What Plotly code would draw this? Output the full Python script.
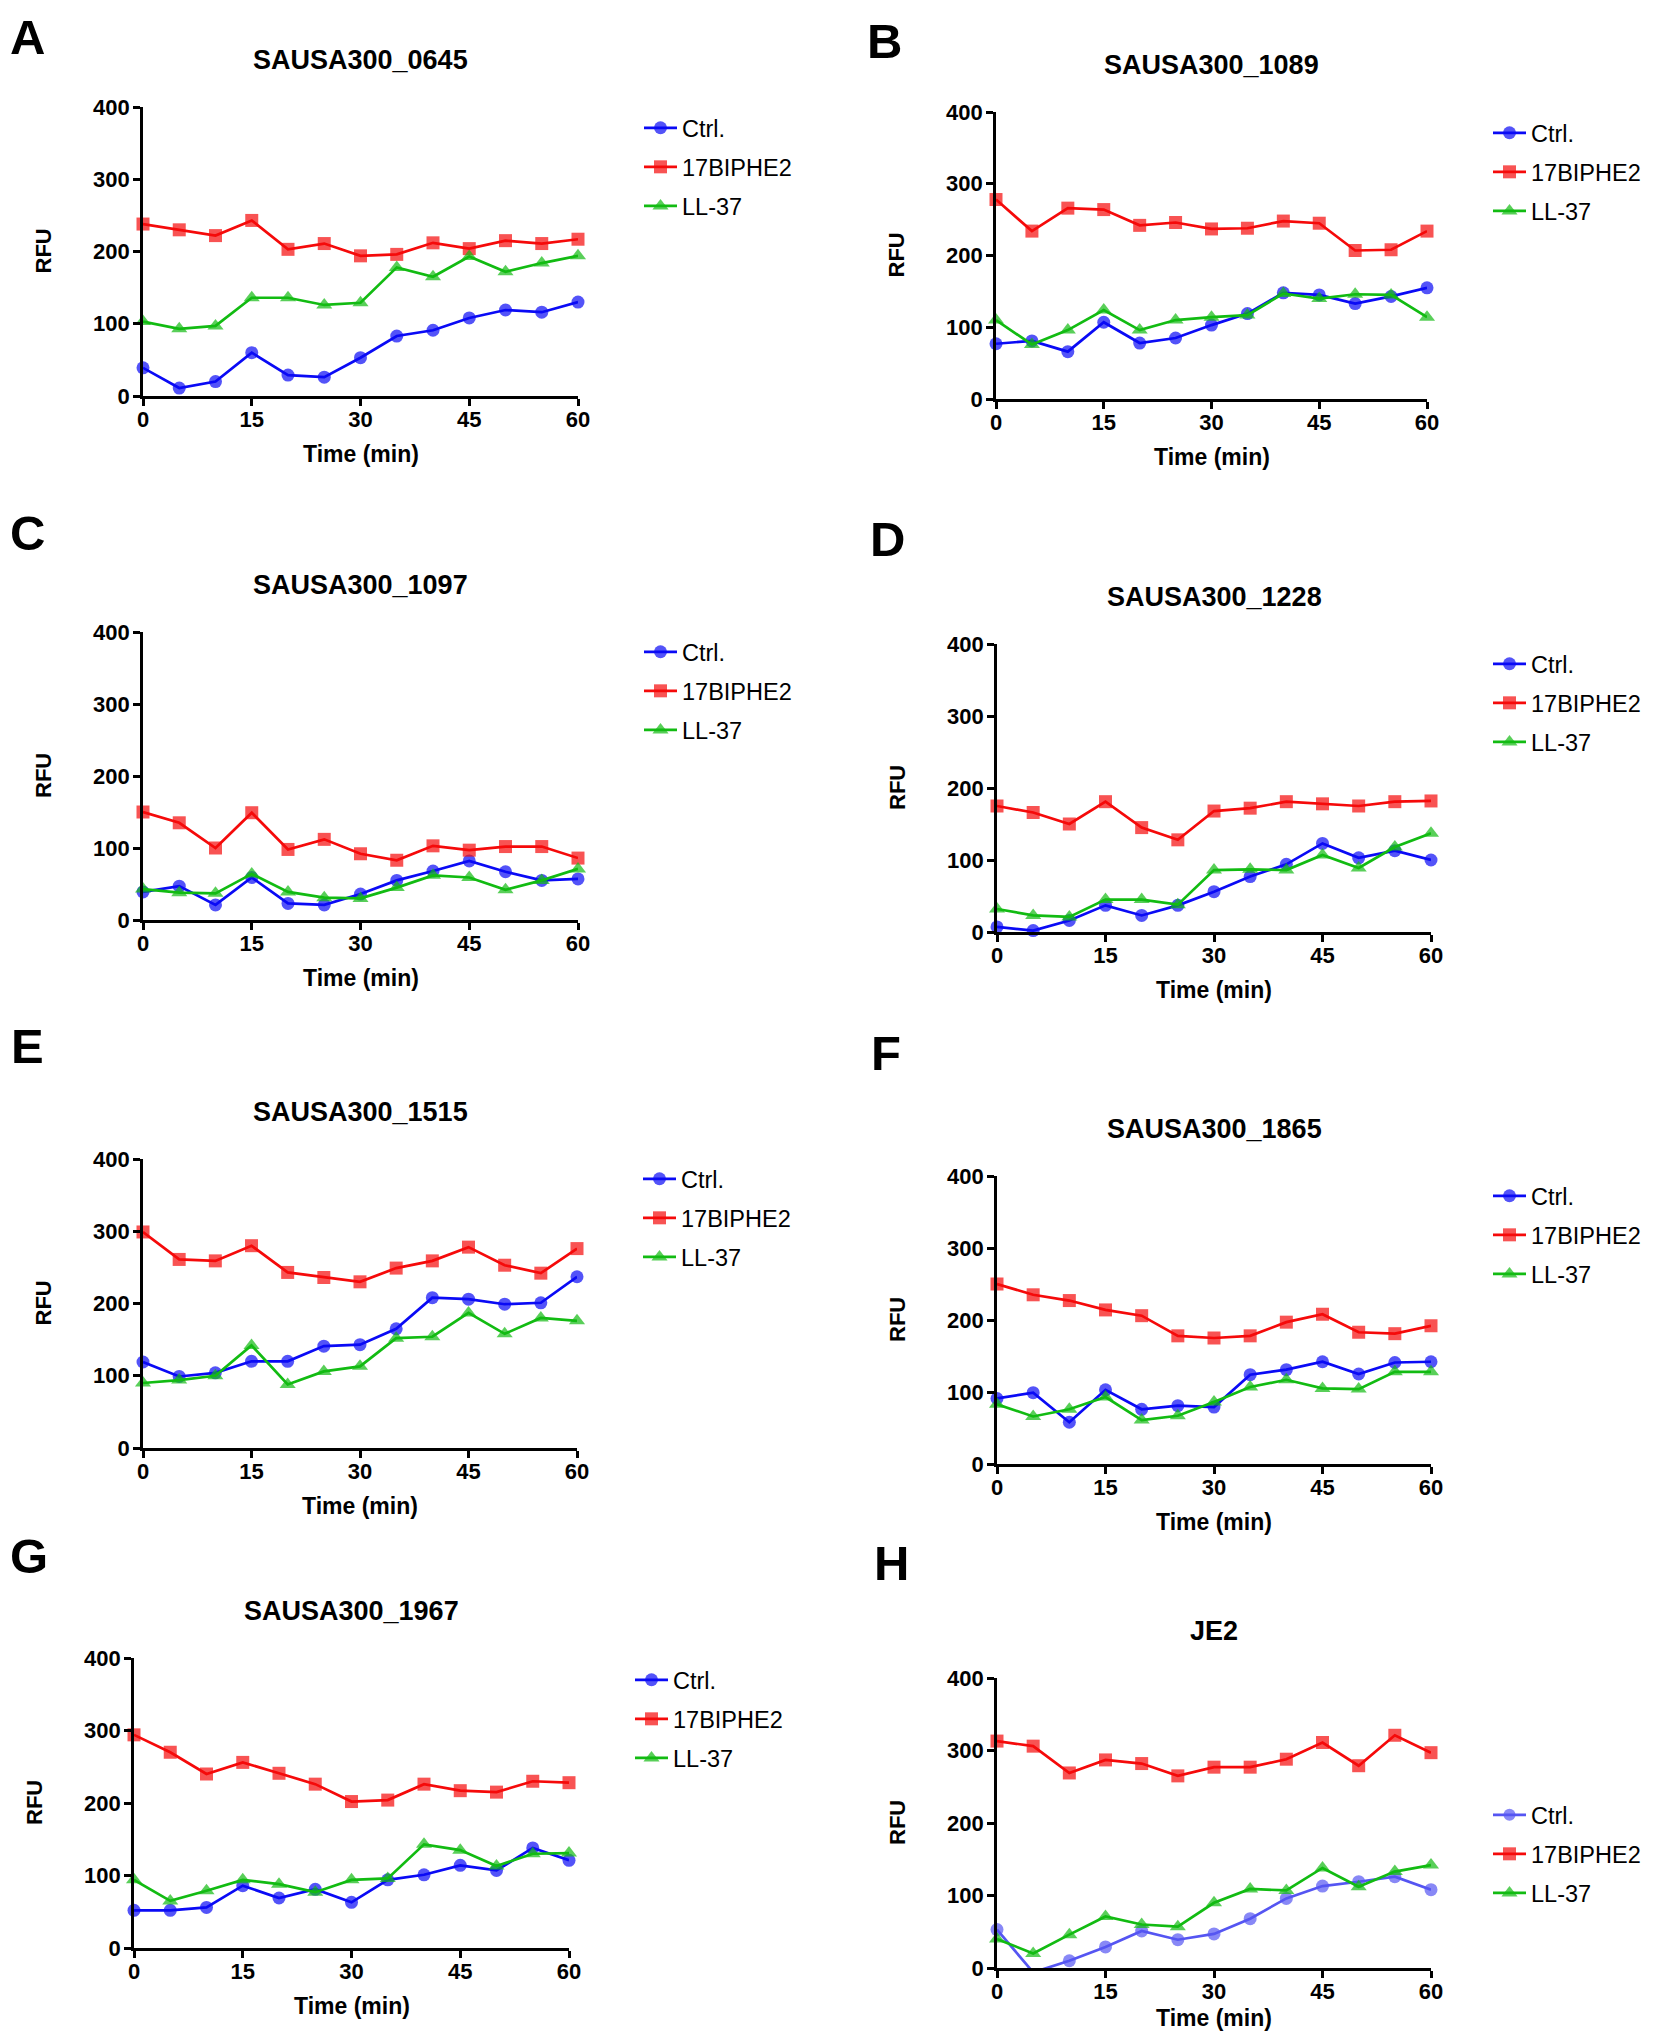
import plotly.graph_objects as go

# ---------------- data ----------------
TIME = [0, 5, 10, 15, 20, 25, 30, 35, 40, 45, 50, 55, 60]
SERIES = ["Ctrl.", "17BIPHE2", "LL-37"]
X_TICKS = [0, 15, 30, 45, 60]
Y_TICKS = [0, 100, 200, 300, 400]
LETTERS = ["A", "B", "C", "D", "E", "F", "G", "H"]
TITLES = ["SAUSA300_0645", "SAUSA300_1089", "SAUSA300_1097", "SAUSA300_1228",
          "SAUSA300_1515", "SAUSA300_1865", "SAUSA300_1967", "JE2"]

A_CTRL = [39, 11, 20, 60, 29, 26, 53, 83, 91, 108, 119, 116, 130]
A_17BIPHE2 = [238, 230, 222, 243, 203, 211, 194, 196, 212, 204, 215, 211, 217]
A_LL37 = [103, 93, 97, 136, 136, 126, 129, 178, 165, 193, 172, 184, 194]

B_CTRL = [77, 81, 66, 107, 78, 85, 103, 119, 148, 145, 133, 143, 155]
B_17BIPHE2 = [278, 234, 266, 264, 242, 246, 237, 238, 248, 245, 207, 208, 234]
B_LL37 = [110, 76, 96, 124, 96, 110, 114, 117, 147, 140, 146, 145, 114]

C_CTRL = [39, 47, 21, 59, 23, 21, 36, 55, 68, 82, 67, 55, 57]
C_17BIPHE2 = [150, 135, 100, 149, 98, 112, 92, 83, 103, 97, 102, 102, 86]
C_LL37 = [43, 38, 37, 64, 39, 31, 30, 45, 62, 59, 42, 55, 71]

D_CTRL = [7, 2, 16, 37, 23, 37, 56, 77, 94, 123, 103, 113, 100]
D_17BIPHE2 = [175, 166, 150, 181, 145, 128, 168, 172, 181, 178, 175, 181, 182]
D_LL37 = [32, 23, 21, 45, 45, 38, 86, 87, 86, 107, 89, 118, 137]

E_CTRL = [119, 99, 104, 120, 120, 141, 143, 165, 208, 206, 199, 201, 237]
E_17BIPHE2 = [299, 261, 259, 280, 243, 236, 230, 249, 259, 278, 253, 242, 276]
E_LL37 = [90, 94, 100, 142, 88, 106, 113, 152, 154, 187, 158, 180, 176]

F_CTRL = [91, 99, 58, 103, 76, 81, 79, 124, 131, 142, 125, 141, 142]
F_17BIPHE2 = [250, 235, 227, 214, 206, 178, 175, 178, 197, 208, 183, 181, 192]
F_LL37 = [83, 66, 76, 93, 61, 67, 86, 107, 117, 105, 104, 128, 128]

G_CTRL = [52, 52, 56, 86, 69, 81, 63, 94, 101, 114, 107, 138, 121]
G_17BIPHE2 = [294, 270, 240, 256, 241, 226, 202, 204, 226, 217, 215, 230, 228]
G_LL37 = [94, 65, 79, 94, 88, 77, 94, 96, 143, 135, 113, 130, 131]

H_CTRL = [53, -6, 10, 29, 51, 39, 47, 68, 96, 113, 119, 126, 108]
H_17BIPHE2 = [313, 306, 269, 287, 282, 265, 277, 277, 288, 311, 279, 321, 297]
H_LL37 = [40, 20, 46, 71, 60, 57, 90, 109, 107, 138, 112, 133, 142]

PANEL_DATA = [
    (A_CTRL, A_17BIPHE2, A_LL37),
    (B_CTRL, B_17BIPHE2, B_LL37),
    (C_CTRL, C_17BIPHE2, C_LL37),
    (D_CTRL, D_17BIPHE2, D_LL37),
    (E_CTRL, E_17BIPHE2, E_LL37),
    (F_CTRL, F_17BIPHE2, F_LL37),
    (G_CTRL, G_17BIPHE2, G_LL37),
    (H_CTRL, H_17BIPHE2, H_LL37),
]

# ---------------- layout / style ----------------
PAGE_W, PAGE_H = 1653, 2040
BODY_MARGIN = 8                      # default html body margin
W, H = PAGE_W - 2 * BODY_MARGIN, PAGE_H - 2 * BODY_MARGIN
FONT = "Liberation Sans, Arial, sans-serif"


def px(xpage):
    return (xpage - BODY_MARGIN) / W


def py(ypage):
    return 1 - (ypage - BODY_MARGIN) / H


# axis boxes in page pixels: (x at 0, x at 60, y at 400, y at 0)
BOXES = [
    (143, 578, 107, 396),
    (996, 1427, 112, 399),
    (143, 578, 632, 920),
    (997, 1431, 644, 932),
    (143, 577, 1159, 1448),
    (997, 1431, 1176, 1464),
    (134, 569, 1658, 1948),
    (997, 1431, 1678, 1968),
]
LETTER_POS = [(27, 37), (884, 41), (27, 533), (888, 539),
              (27, 1046), (886, 1053), (29, 1556), (891, 1563)]
LEGEND_ROW1 = [19, 19, 18, 18, 18, 18, 20, 135]
LEGEND_FONT = 23.5
LEGEND_MAX_X = PAGE_W - BODY_MARGIN - 43 - 114   # keep the longest label inside

COLORS = ["#0a0af5", "#f50a0a", "#12bb12"]
H_CTRL_COLOR = "#5555f2"
SYMBOLS = ["circle", "square", "triangle-up"]
SIZES = [13, 13, 14]

fig = go.Figure()
annotations = []
layout = dict(
    width=W, height=H,
    margin=dict(l=0, r=0, t=0, b=0, autoexpand=False),
    paper_bgcolor="white", plot_bgcolor="white",
    showlegend=True,
)

for i, data in enumerate(PANEL_DATA):
    sfx = "" if i == 0 else str(i + 1)
    x0, x60, y400, y0 = BOXES[i]
    axis_font = dict(family=FONT, size=22, color="black", weight="bold")
    common = dict(showline=True, linewidth=2.7, linecolor="black", ticks="outside",
                  ticklen=7, tickwidth=2.7, tickcolor="black", showgrid=False,
                  zeroline=False, tickfont=axis_font, fixedrange=True, automargin=False)
    layout[f"xaxis{sfx}"] = dict(domain=[px(x0), px(x60)], anchor=f"y{sfx}",
                                 range=[0, 60], tickvals=X_TICKS, ticklabelstandoff=-5,
                                 **common)
    layout[f"yaxis{sfx}"] = dict(domain=[py(y0), py(y400)], anchor=f"x{sfx}",
                                 range=[0, 400], tickvals=Y_TICKS, ticklabelstandoff=-1,
                                 **common)
    lx = min(x60 + 61, LEGEND_MAX_X)
    ly = y400 + LEGEND_ROW1[i] - 20
    layout[f"legend{sfx}"] = dict(x=px(lx), y=py(ly), xanchor="left", yanchor="top",
                                  font=dict(family=FONT, size=LEGEND_FONT, color="black"),
                                  bgcolor="rgba(0,0,0,0)", tracegroupgap=5.5,
                                  traceorder="grouped", itemwidth=33)
    for j, vals in enumerate(data):
        color = COLORS[j]
        if i == 7 and j == 0:
            color = H_CTRL_COLOR
        sizes = [0 if v < 0 else SIZES[j] for v in vals]
        fig.add_trace(go.Scatter(
            x=TIME, y=vals, name=SERIES[j], mode="lines+markers",
            xaxis=f"x{sfx}", yaxis=f"y{sfx}", legend=f"legend{sfx}",
            legendgroup=f"{LETTERS[i]}-{j}",
            line=dict(color=color, width=2.7),
            marker=dict(symbol=SYMBOLS[j], size=sizes, color=color, line=dict(width=0)),
            cliponaxis=False,
        ))
    # panel letter
    annotations.append(dict(text=LETTERS[i], x=px(LETTER_POS[i][0]), y=py(LETTER_POS[i][1]),
                            xref="paper", yref="paper", showarrow=False,
                            xanchor="center", yanchor="middle",
                            font=dict(family=FONT, size=49, color="black", weight="bold")))
    # title
    annotations.append(dict(text=TITLES[i], x=px((x0 + x60) / 2), y=py(y400 - 47),
                            xref="paper", yref="paper", showarrow=False,
                            xanchor="center", yanchor="middle",
                            font=dict(family=FONT, size=27, color="black", weight="bold")))
    # x axis title (kept inside the page at the bottom)
    ty = min(y0 + 58, PAGE_H - BODY_MARGIN - 14)
    annotations.append(dict(text="Time (min)", x=px((x0 + x60) / 2), y=py(ty),
                            xref="paper", yref="paper", showarrow=False,
                            xanchor="center", yanchor="middle",
                            font=dict(family=FONT, size=23, color="black", weight="bold")))
    # y axis title
    annotations.append(dict(text="RFU", x=px(x0 - 100), y=py((y0 + y400) / 2),
                            xref="paper", yref="paper", showarrow=False, textangle=-90,
                            xanchor="center", yanchor="middle",
                            font=dict(family=FONT, size=22, color="black", weight="bold")))

layout["annotations"] = annotations
fig.update_layout(**layout)
fig.write_html("out.html")
